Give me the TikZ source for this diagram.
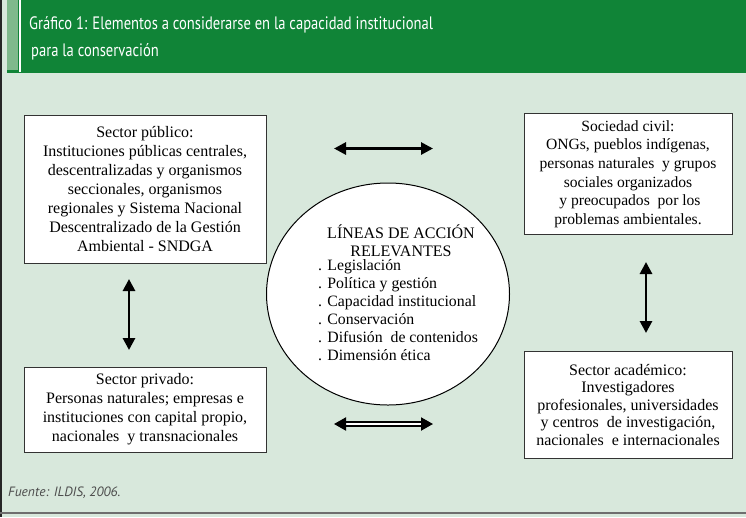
\documentclass[tikz,border=0pt]{standalone}
\usepackage{fontspec}
\setmainfont{Liberation Serif}
\newfontfamily\titlefont[FakeStretch=0.81]{PT Sans}
\newfontfamily\srcfont{PT Sans}
\usetikzlibrary{arrows.meta,shapes.geometric}
\definecolor{bgcol}{HTML}{D8E8DC}
\definecolor{hdrgreen}{HTML}{108437}
\definecolor{hdrlight}{HTML}{7FB98C}
\definecolor{framegray}{HTML}{6E6E6E}
\tikzset{
  sectorbox/.style={draw=black!80, line width=0.9pt, fill=white, align=center, inner sep=0pt,
    font=\fontsize{16}{19}\selectfont},
  biarrow/.style={line width=2.8pt, {Triangle[length=12pt,width=12pt]}-{Triangle[length=12pt,width=12pt]}},
  dblarrow/.style={double, double distance=1.6pt, line width=2pt, {Triangle[length=12pt,width=13pt]}-{Triangle[length=12pt,width=13pt]}},
}
\begin{document}
\begin{tikzpicture}[x=1pt,y=-1pt]
\useasboundingbox (0,0) rectangle (746,517);
% background
\fill[bgcol] (0,0) rectangle (746,517);
% header
\fill[hdrgreen] (7,0) rectangle (746,73);
\fill[hdrlight] (7,0) rectangle (18,70);
\fill[white] (19,0) rectangle (20.5,72);
% frame lines
\draw[black!85, line width=1.5pt] (0.75,0) -- (0.75,517);
\draw[framegray, line width=1.5pt] (0,513) -- (746,513);
% title
\node[anchor=west, text=white, inner sep=0pt, font=\titlefont\fontsize{18}{22}\selectfont] (title1) at (29,25) {Gráfico 1: Elementos a considerarse en la capacidad institucional};
\node[anchor=west, text=white, inner sep=0pt, font=\titlefont\fontsize{18}{22}\selectfont] (title2) at (31,52) {para la conservación};
% boxes
\node[sectorbox, minimum width=242pt, minimum height=148pt] (publico) at (145,189)
 {Sector público:\\Instituciones públicas centrales,\\descentralizadas y organismos\\seccionales, organismos\\regionales y Sistema Nacional\\Descentralizado de la Gestión\\Ambiental - SNDGA};
\node[sectorbox, minimum width=208pt, minimum height=121pt, font=\fontsize{15.6}{18.6}\selectfont] (civil) at (628,174)
 {Sociedad civil:\\ONGs, pueblos indígenas,\\personas naturales\ \ y grupos\\sociales organizados\\\ y preocupados\ \ por los\\problemas ambientales.};
\node[sectorbox, minimum width=242pt, minimum height=85pt] (privado) at (145,409.5)
 {Sector privado:\\Personas naturales; empresas e\\instituciones con capital propio,\\nacionales\ \ y transnacionales};
\node[sectorbox, minimum width=208pt, minimum height=107pt, font=\fontsize{16}{17.5}\selectfont] (academico) at (628,405)
 {Sector académico:\\Investigadores\\profesionales, universidades\\y centros\ \ de investigación,\\nacionales\ \ e internacionales};
% ellipse
\node[ellipse, draw=black, line width=1pt, fill=white, minimum width=243pt, minimum height=222pt, inner sep=0pt] (lineas) at (388,294) {};
\node[align=center, inner sep=0pt, font=\fontsize{16}{18}\selectfont] (lineastitle) at (401,241) {LÍNEAS DE ACCIÓN\\RELEVANTES};
\node[align=left, anchor=north west, inner sep=0pt, font=\fontsize{15.8}{18}\selectfont] (lineaslist) at (318,259)
 {. Legislación\\. Política y gestión\\. Capacidad institucional\\. Conservación\\. Difusión\ \ de contenidos\\. Dimensión ética};
% arrows
\coordinate (ta) at (334,148.5);
\coordinate (tb) at (433,148.5);
\draw[biarrow] (ta) -- (tb);
\coordinate (ba) at (334,424);
\coordinate (bb) at (433,424);
\draw[dblarrow] (ba) -- (bb);
\coordinate (la) at (129,279);
\coordinate (lb) at (129,350);
\draw[biarrow] (la) -- (lb);
\coordinate (ra) at (646,262);
\coordinate (rb) at (646,333);
\draw[biarrow] (ra) -- (rb);
% source
\node[anchor=west, inner sep=0pt, text=black!70, font=\srcfont\itshape\fontsize{13.5}{16}\selectfont] (fuente) at (8,493) {Fuente: ILDIS, 2006.};
\end{tikzpicture}
\end{document}
